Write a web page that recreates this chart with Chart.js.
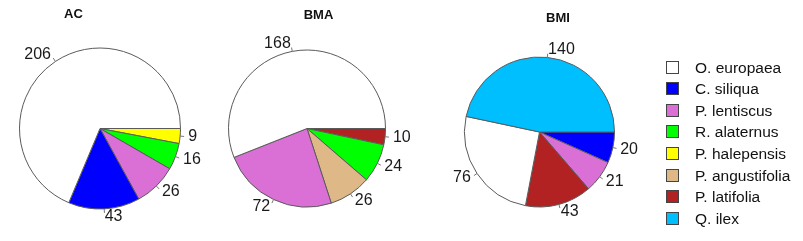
<!DOCTYPE html>
<html>
<head>
<meta charset="utf-8">
<script src="https://cdn.jsdelivr.net/npm/chart.js@4/dist/chart.umd.min.js"></script>
<style>
  html, body { margin: 0; padding: 0; background: #fff; }
  #wrap { position: relative; width: 803px; height: 241px; overflow: hidden; font-family: "Liberation Sans", Arial, sans-serif; }
  #wrap canvas { position: absolute; left: 0; top: 0; }
  .ttl { position: absolute; font-weight: bold; font-size: 13px; color: #111; transform: translate(-50%, -50%); white-space: nowrap; }
  .leg { position: absolute; left: 666px; font-size: 15.5px; color: #111; }
  .leg div { position: relative; height: 21.6px; line-height: 21.6px; padding-left: 29px; white-space: nowrap; }
  .leg span { position: absolute; left: 0; top: 4px; width: 11px; height: 11px; border: 1.5px solid #444; }
</style>
</head>
<body>
<div id="wrap">
  <canvas id="c0" width="803" height="241"></canvas>
  <canvas id="c1" width="803" height="241"></canvas>
  <canvas id="c2" width="803" height="241"></canvas>
</div>
<script>
// species and their colours (legend order)
const species = ["O. europaea", "C. siliqua", "P. lentiscus", "R. alaternus", "P. halepensis", "P. angustifolia", "P. latifolia", "Q. ilex"];
const speciesColors = ["#FFFFFF", "#0000FF", "#DA70D6", "#00FF00", "#FFFF00", "#DEB887", "#B22222", "#00BFFF"];

// sites
const sites = ["AC", "BMA", "BMI"];

// slices per site, counter-clockwise from 3 o'clock
const acSpecies = ["O. europaea", "C. siliqua", "P. lentiscus", "R. alaternus", "P. halepensis"];
const acValues = [206, 43, 26, 16, 9];

const bmaSpecies = ["O. europaea", "P. lentiscus", "P. angustifolia", "R. alaternus", "P. latifolia"];
const bmaValues = [168, 72, 26, 24, 10];

const bmiSpecies = ["Q. ilex", "O. europaea", "P. latifolia", "P. lentiscus", "C. siliqua"];
const bmiValues = [140, 76, 43, 21, 20];

// layout: pie centre / radius, title position
const panels = [
  { cx: 100, cy: 128.5, r: 80.5, tx: 73.5, ty: 13 },
  { cx: 307, cy: 128.5, r: 78.5, tx: 318.5, ty: 14 },
  { cx: 539.5, cy: 132, r: 75, tx: 558, ty: 17 }
];

const siteSpecies = [acSpecies, bmaSpecies, bmiSpecies];
const siteValues = [acValues, bmaValues, bmiValues];

// R-style outside labels with small ticks
const outLabels = {
  id: "outLabels",
  afterDatasetsDraw(chart) {
    const ctx = chart.ctx;
    const meta = chart.getDatasetMeta(0);
    const vals = chart.data.datasets[0].data;
    ctx.save();
    ctx.font = "16px 'Liberation Sans', Arial, sans-serif";
    ctx.textBaseline = "middle";
    meta.data.forEach((arc, i) => {
      const p = arc.getProps(["x", "y", "startAngle", "endAngle", "outerRadius"], true);
      const mid = (p.startAngle + p.endAngle) / 2;
      const c = Math.cos(mid), s = Math.sin(mid);
      ctx.strokeStyle = "#777";
      ctx.lineWidth = 1;
      ctx.beginPath();
      ctx.moveTo(p.x + p.outerRadius * c, p.y + p.outerRadius * s);
      ctx.lineTo(p.x + p.outerRadius * 1.05 * c, p.y + p.outerRadius * 1.05 * s);
      ctx.stroke();
      ctx.fillStyle = "#1a1a1a";
      ctx.textAlign = c < 0 ? "right" : "left";
      ctx.fillText(String(vals[i]), p.x + p.outerRadius * 1.1 * c, p.y + p.outerRadius * 1.1 * s);
    });
    ctx.restore();
  }
};

const wrap = document.getElementById("wrap");

sites.forEach((site, k) => {
  const L = panels[k];
  const side = 2 * L.r + 1;
  // chart.js goes clockwise, so reverse to get R's counter-clockwise order
  const labs = siteSpecies[k].slice().reverse();
  const vals = siteValues[k].slice().reverse();
  const cols = labs.map(n => speciesColors[species.indexOf(n)]);

  new Chart(document.getElementById("c" + k), {
    type: "pie",
    data: {
      labels: labs,
      datasets: [{
        data: vals,
        backgroundColor: cols,
        borderColor: "#5a5a5a",
        borderWidth: 1
      }]
    },
    options: {
      responsive: false,
      animation: false,
      rotation: 90,
      events: [],
      layout: {
        padding: {
          left: L.cx - side / 2,
          right: 803 - L.cx - side / 2,
          top: L.cy - side / 2,
          bottom: 241 - L.cy - side / 2
        }
      },
      plugins: { legend: { display: false }, tooltip: { enabled: false } }
    },
    plugins: [outLabels]
  });

  const t = document.createElement("div");
  t.className = "ttl";
  t.style.left = L.tx + "px";
  t.style.top = L.ty + "px";
  t.textContent = site;
  wrap.appendChild(t);
});

// legend
const leg = document.createElement("div");
leg.className = "leg";
leg.style.top = "56.7px";
species.forEach((n, i) => {
  const row = document.createElement("div");
  const box = document.createElement("span");
  box.style.background = speciesColors[i];
  row.appendChild(box);
  row.appendChild(document.createTextNode(n));
  leg.appendChild(row);
});
wrap.appendChild(leg);
</script>
</body>
</html>
